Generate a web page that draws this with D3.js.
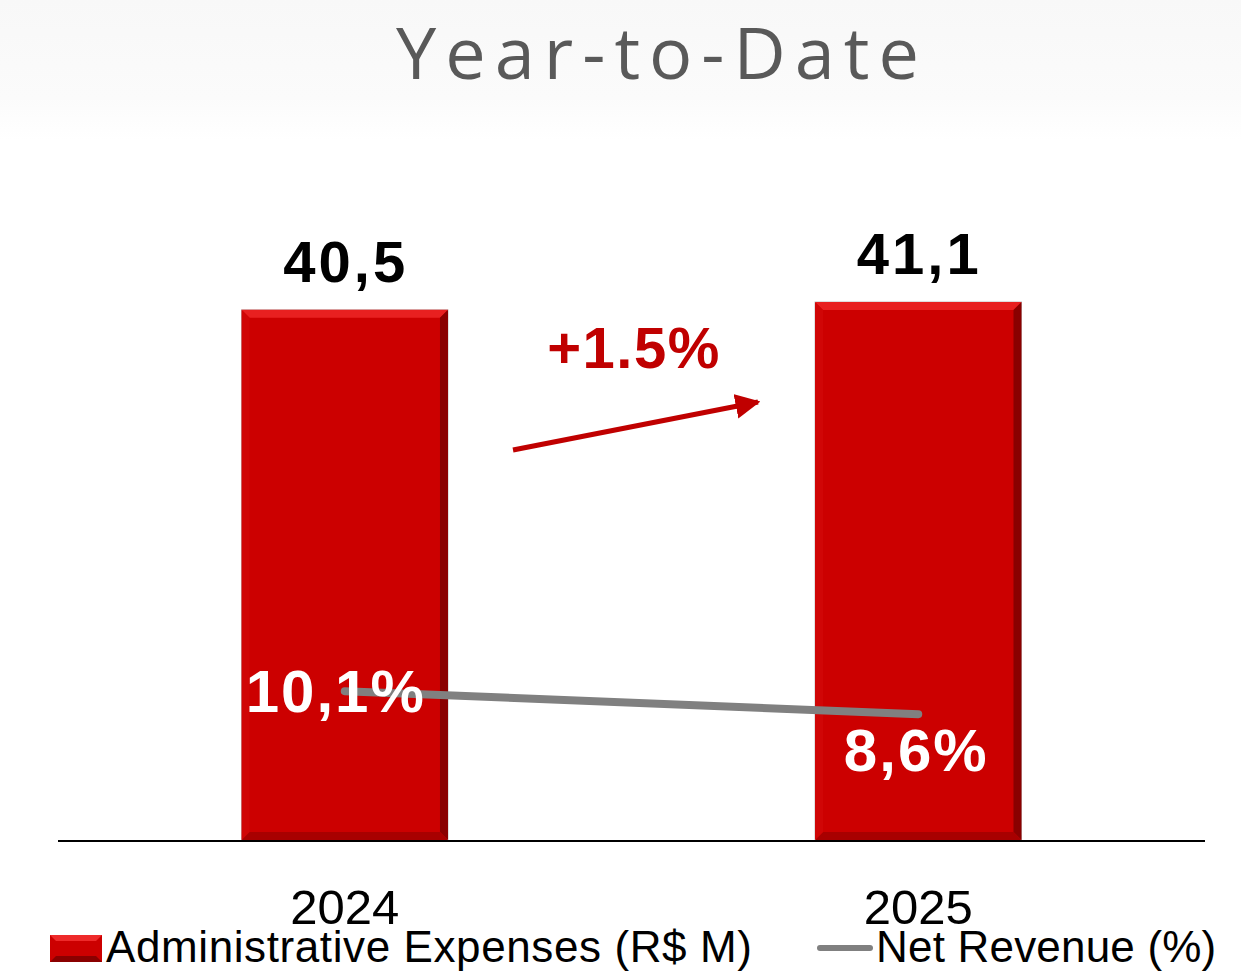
<!DOCTYPE html>
<html>
<head>
<meta charset="utf-8">
<script src="https://cdn.jsdelivr.net/npm/d3@7"></script>
<style>
  body { margin: 0; background: #fff; }
  svg { display: block; }
</style>
</head>
<body>
<svg width="1241" height="972"></svg>
<script>
const years = ['2024', '2025'];
const expenses = [40.5, 41.1];
const expenseLabels = ['40,5', '41,1'];
const revenuePct = [10.1, 8.6];
const revenueLabels = ['10,1%', '8,6%'];
const growthLabel = '+1.5%';

const svg = d3.select('svg');
const baseY = 840;

const defs = svg.append('defs');
const bg = defs.append('linearGradient').attr('id', 'band').attr('x1', 0).attr('x2', 0).attr('y1', 0).attr('y2', 1);
bg.append('stop').attr('offset', '0%').attr('stop-color', '#f8f8f8');
bg.append('stop').attr('offset', '70%').attr('stop-color', '#fbfbfb');
bg.append('stop').attr('offset', '100%').attr('stop-color', '#ffffff');

// faint title band
svg.append('rect').attr('x', 0).attr('y', 0).attr('width', 1241).attr('height', 140).attr('fill', 'url(#band)');

svg.append('text')
  .attr('x', 662).attr('y', 79)
  .attr('text-anchor', 'middle')
  .attr('font-family', 'Open Sans')
  .attr('font-size', '72px')
  .attr('letter-spacing', '9px')
  .attr('fill', '#595959')
  .text('Year-to-Date');

const x = d3.scaleBand().domain(years).range([58, 1205]).paddingInner(0.64).paddingOuter(0.32);
const y = d3.scaleLinear().domain([0, 45]).range([baseY, baseY - 45 * 13.09]);
const y2 = d3.scaleLinear().domain([0, 12]).range([846, 846 - 12 * 15.33]);

const m = defs.append('marker').attr('id', 'arrow')
  .attr('viewBox', '0 0 10 10').attr('refX', 9).attr('refY', 5)
  .attr('markerWidth', 5).attr('markerHeight', 5).attr('orient', 'auto');
m.append('path').attr('d', 'M0,0 L10,5 L0,10 z').attr('fill', '#c00000');

// bars with bevel
const bars = svg.selectAll('.bar').data(years).enter().append('g').attr('class', 'bar');
const bev = 8;
bars.append('rect')
  .attr('x', d => x(d)).attr('y', (d, i) => y(expenses[i]))
  .attr('width', x.bandwidth()).attr('height', (d, i) => baseY - y(expenses[i]))
  .attr('fill', '#cc0000').attr('stroke', '#c0c0c0').attr('stroke-width', 1);
// top bevel
bars.append('path')
  .attr('d', (d, i) => {
    const x0 = x(d), x1 = x(d) + x.bandwidth(), t = y(expenses[i]);
    return `M${x0},${t} L${x1},${t} L${x1 - bev},${t + bev} L${x0 + bev},${t + bev} Z`;
  })
  .attr('fill', '#e82020');
// right bevel
bars.append('path')
  .attr('d', (d, i) => {
    const x1 = x(d) + x.bandwidth(), t = y(expenses[i]);
    return `M${x1},${t} L${x1},${baseY} L${x1 - bev},${baseY - bev} L${x1 - bev},${t + bev} Z`;
  })
  .attr('fill', '#8a0000');
// bottom bevel
bars.append('path')
  .attr('d', d => {
    const x0 = x(d), x1 = x(d) + x.bandwidth();
    return `M${x0},${baseY} L${x1},${baseY} L${x1 - bev},${baseY - bev} L${x0 + bev},${baseY - bev} Z`;
  })
  .attr('fill', '#a80000');
// left bevel
bars.append('path')
  .attr('d', (d, i) => {
    const x0 = x(d), t = y(expenses[i]);
    return `M${x0},${t} L${x0 + bev},${t + bev} L${x0 + bev},${baseY - bev} L${x0},${baseY} Z`;
  })
  .attr('fill', '#d00606');

// axis line
svg.append('line').attr('x1', 58).attr('x2', 1205).attr('y1', baseY + 1).attr('y2', baseY + 1)
  .attr('stroke', '#000').attr('stroke-width', 2);

// category labels
svg.selectAll('.cat').data(years).enter().append('text')
  .attr('x', d => x(d) + x.bandwidth() / 2).attr('y', 924)
  .attr('text-anchor', 'middle')
  .attr('font-family', 'Liberation Sans').attr('font-size', '49px').attr('fill', '#000')
  .text(d => d);

// value labels
svg.selectAll('.val').data(years).enter().append('text')
  .attr('x', d => x(d) + x.bandwidth() / 2 + 1).attr('y', (d, i) => y(expenses[i]) - 28)
  .attr('text-anchor', 'middle')
  .attr('font-family', 'Liberation Sans').attr('font-weight', 'bold').attr('font-size', '58px')
  .attr('letter-spacing', '3px').attr('fill', '#000')
  .text((d, i) => expenseLabels[i]);

// revenue line
const line = d3.line().x((d, i) => x(years[i]) + x.bandwidth() / 2).y(d => y2(d));
svg.append('path').datum(revenuePct).attr('d', line)
  .attr('fill', 'none').attr('stroke', '#808080').attr('stroke-width', 8).attr('stroke-linecap', 'round');

svg.selectAll('.pct').data(revenuePct).enter().append('text')
  .attr('x', (d, i) => x(years[i]) + x.bandwidth() / 2 - (i === 0 ? 9 : 2))
  .attr('y', (d, i) => y2(d) + (i === 0 ? 21 : 57))
  .attr('text-anchor', 'middle')
  .attr('font-family', 'Liberation Sans').attr('font-weight', 'bold').attr('font-size', '60px')
  .attr('letter-spacing', '2px').attr('fill', '#fff')
  .text((d, i) => revenueLabels[i]);

// growth arrow
svg.append('line').attr('x1', 513).attr('y1', 450).attr('x2', 758).attr('y2', 402)
  .attr('stroke', '#c00000').attr('stroke-width', 5).attr('marker-end', 'url(#arrow)');
svg.append('text').attr('x', 634).attr('y', 368).attr('text-anchor', 'middle')
  .attr('font-family', 'Liberation Sans').attr('font-weight', 'bold').attr('font-size', '58px')
  .attr('letter-spacing', '1.5px').attr('fill', '#c00000')
  .text(growthLabel);

// legend
const lg = svg.append('g');
const sw = { x: 50, y: 935, w: 52, h: 27, b: 6 };
lg.append('rect').attr('x', sw.x).attr('y', sw.y).attr('width', sw.w).attr('height', sw.h).attr('fill', '#cc0000');
lg.append('path').attr('d', `M${sw.x},${sw.y} L${sw.x + sw.w},${sw.y} L${sw.x + sw.w - sw.b},${sw.y + sw.b} L${sw.x + sw.b},${sw.y + sw.b} Z`).attr('fill', '#ee2a2a');
lg.append('path').attr('d', `M${sw.x},${sw.y + sw.h} L${sw.x + sw.w},${sw.y + sw.h} L${sw.x + sw.w - sw.b},${sw.y + sw.h - sw.b} L${sw.x + sw.b},${sw.y + sw.h - sw.b} Z`).attr('fill', '#8a0000');
lg.append('text').attr('x', 106).attr('y', 962)
  .attr('font-family', 'Liberation Sans').attr('font-size', '44px').attr('letter-spacing', '0.6px').attr('fill', '#000')
  .text('Administrative Expenses (R$ M)');
lg.append('line').attr('x1', 820).attr('x2', 870).attr('y1', 948).attr('y2', 948)
  .attr('stroke', '#808080').attr('stroke-width', 6).attr('stroke-linecap', 'round');
lg.append('text').attr('x', 876).attr('y', 962)
  .attr('font-family', 'Liberation Sans').attr('font-size', '44px').attr('letter-spacing', '0.2px').attr('fill', '#000')
  .text('Net Revenue (%)');
</script>
</body>
</html>
